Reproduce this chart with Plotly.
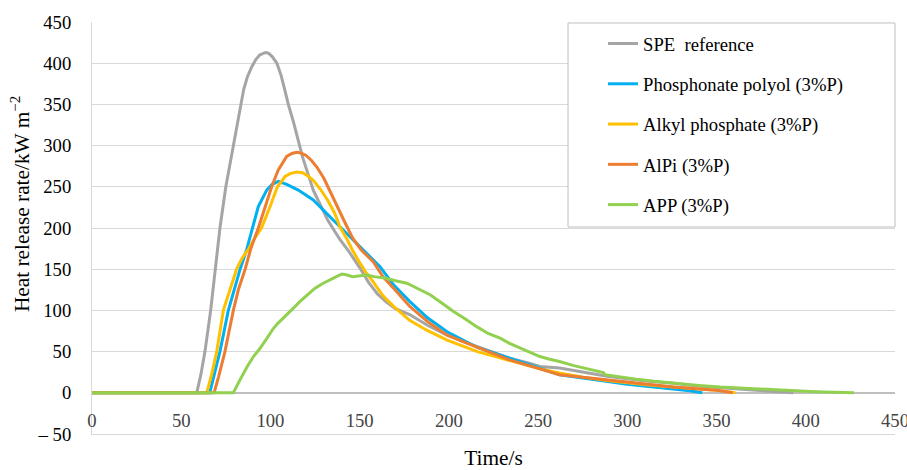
import plotly.graph_objects as go

# ---------------- data ----------------
series_names = ["SPE  reference", "Phosphonate polyol (3%P)", "Alkyl phosphate (3%P)",
                "AlPi (3%P)", "APP (3%P)"]

spe_t = [0, 58.7, 61, 63.3, 66.5, 69, 71.7, 75, 78.8, 82, 85, 87, 89.6, 92, 94, 96, 97.5, 99, 101,
         103.6, 106, 108, 110, 113, 115, 118, 121, 124, 128, 132, 136, 139, 143.5, 147, 150, 155, 160,
         165, 170, 178, 188, 197, 207, 216, 225, 234, 245, 251, 262, 275, 288.6, 300, 312, 325.7, 340,
         352, 363, 378, 393]
spe_hrr = [0, 0, 22, 50, 100, 150, 200, 250, 295, 335, 368, 383, 396, 405, 410, 412, 413, 412, 408,
           400, 385, 368, 350, 328, 310, 286, 266, 246, 228, 210, 196, 186, 173, 162, 152, 134, 120,
           110, 102, 95, 82, 72, 63, 56, 49, 42, 36, 32, 30, 25, 20, 17, 14, 11.7, 8, 6, 4.5, 2.5, 0]

pp_t = [0, 66, 68.5, 71.7, 76.4, 80, 83, 86.7, 90, 93.2, 97.9, 101, 104.4, 109.1, 115.6, 124, 135,
        146, 154, 161.4, 169, 178, 188, 199, 216, 234, 251, 262, 275, 288.6, 300, 312, 325.7, 335, 342]
pp_hrr = [0, 0, 22, 50, 100, 128, 150, 174, 200, 226, 246, 253, 256.5, 253, 246, 234, 210,
          186, 168, 153, 131, 111, 91, 74, 55, 42, 29, 22, 18, 13.7, 10.5, 7.5, 4.5, 2.5, 0]

ap_t = [0, 64.3, 67, 69.9, 73.6, 78.3, 81, 84, 87.6, 91, 95, 99.8, 103.9, 108.2, 111, 114.7, 118,
        121, 124, 128, 132, 136, 139, 143, 146, 150, 153.5, 157.5, 163, 169, 178, 187.6, 199, 216,
        234, 251, 262, 275, 288.6, 300, 312, 325.7, 340, 350, 360.5]
ap_hrr = [0, 0, 22, 50, 100, 133, 150, 163, 174, 187, 200, 226, 250, 262.5, 266, 268, 267,
          263, 258, 247, 234, 218, 201, 186, 173, 158, 146, 135, 118, 105, 88, 76, 64, 50,
          39, 29, 24, 19, 15, 12, 9.5, 7, 4.5, 3, 0]

alpi_t = [0, 68.4, 71, 74.5, 79.2, 82, 85.8, 89, 93.2, 97, 100.7, 104.4, 107, 109.1, 112, 114.7,
          117, 120, 123, 126, 130, 133, 137, 141, 146, 151, 157.6, 163, 169, 178, 187.7, 199, 216,
          234, 251, 262, 275, 288.6, 300, 312, 325.7, 340, 350, 359]
alpi_hrr = [0, 0, 20, 50, 100, 125, 150, 175, 200, 226, 250, 270.6, 280, 286.8, 290.5, 292,
            291, 288, 282, 274, 260, 246, 228, 210, 188, 173, 159, 141, 127, 105, 87, 70, 55,
            40, 29, 22, 19, 15.8, 12.5, 10, 7, 4.5, 3, 0]

app_t = [0, 79.2, 83, 87, 90.5, 94.2, 98, 101.6, 104, 108, 113, 116.6, 122, 125, 129.6, 133, 137,
         140, 143, 146, 150, 154, 158, 165, 170, 176.5, 183, 189.5, 196, 202.4, 209, 215.8, 222,
         229, 234, 240, 247, 251, 256, 262, 270, 278, 286.6, 287.5, 295, 305, 315, 325.7, 340,
         352, 363, 375, 385, 395, 402.5, 410, 418, 427]
app_hrr = [0, 0, 16, 32, 44, 54, 66, 78, 84, 93, 103, 111, 121, 127, 133, 137, 141,
           144, 143, 141, 142, 143, 141, 139, 136, 133, 126, 119, 109, 99, 90, 80, 72,
           66, 60, 54, 47, 44, 41, 38, 33, 29, 24.6, 22, 19.5, 16.5, 14, 11.7, 9,
           7, 5.7, 4.3, 3.2, 2.2, 1.6, 1.1, 0.6, 0]

x_ticks = [0, 50, 100, 150, 200, 250, 300, 350, 400, 450]
y_ticks = [-50, 0, 50, 100, 150, 200, 250, 300, 350, 400, 450]
y_tick_labels = ["\u2013 50", "0", "50", "100", "150", "200", "250", "300", "350", "400", "450"]
x_title = "Time/s"
y_title = "Heat release rate/kW m<sup>\u22122</sup>"

# ---------------- styling ----------------
colors = ["#A5A5A5", "#00B0F0", "#FFC000", "#ED7D31", "#92D050"]
FONT = "Liberation Serif"
FS = 18.67
FS_TITLE = 21.33

fig = go.Figure()
data = [(spe_t, spe_hrr), (pp_t, pp_hrr), (ap_t, ap_hrr), (alpi_t, alpi_hrr), (app_t, app_hrr)]
for i, ((t, h), name) in enumerate(zip(data, series_names)):
    fig.add_trace(go.Scatter(x=t, y=h, mode="lines", name=name, legendgroup=f"g{i}",
                             line=dict(color=colors[i], width=3)))

# legend frame
fig.add_shape(type="rect", xref="paper", yref="paper", x0=0.5928, x1=1.0, y0=0.5024, y1=0.9976,
              line=dict(color="#BFBFBF", width=1), fillcolor="white", layer="above")

# y-axis title (placed as in the reference, slightly above the plot centre)
fig.add_annotation(text=y_title, xref="paper", yref="paper", x=-0.0897, y=0.558,
                   xanchor="center", yanchor="middle", textangle=-90, showarrow=False,
                   font=dict(family=FONT, size=FS_TITLE, color="black"))

fig.update_layout(
    width=907, height=470,
    margin=dict(l=92, r=12, t=22, b=36),
    paper_bgcolor="white", plot_bgcolor="white",
    font=dict(family=FONT, size=FS, color="black"),
    showlegend=True,
    legend=dict(x=0.6364, y=0.993, xanchor="left", yanchor="top", bgcolor="rgba(0,0,0,0)",
                borderwidth=0, tracegroupgap=13, font=dict(family=FONT, size=FS, color="black")),
    xaxis=dict(range=[0, 450], tickvals=x_ticks, showgrid=False, zeroline=False,
               showline=True, linecolor="#D9D9D9", linewidth=1, ticks="",
               ticklabelposition="inside", ticklabeloverflow="allow", ticklabelstandoff=4,
               tickfont=dict(family=FONT, size=FS),
               title=dict(text=x_title, font=dict(family=FONT, size=FS_TITLE), standoff=22),
               automargin=False),
    yaxis=dict(range=[-50, 450], tickvals=y_ticks, ticktext=y_tick_labels,
               showgrid=True, gridcolor="#D9D9D9", gridwidth=1,
               zeroline=True, zerolinecolor="#BFBFBF", zerolinewidth=1.5,
               showline=True, linecolor="#D9D9D9", linewidth=1, ticks="",
               ticklabelstandoff=16, tickfont=dict(family=FONT, size=FS),
               automargin=False),
)

fig.write_html("out.html", config={"displayModeBar": False},
               post_script="document.body.style.margin='0';document.body.style.overflow='hidden';")
